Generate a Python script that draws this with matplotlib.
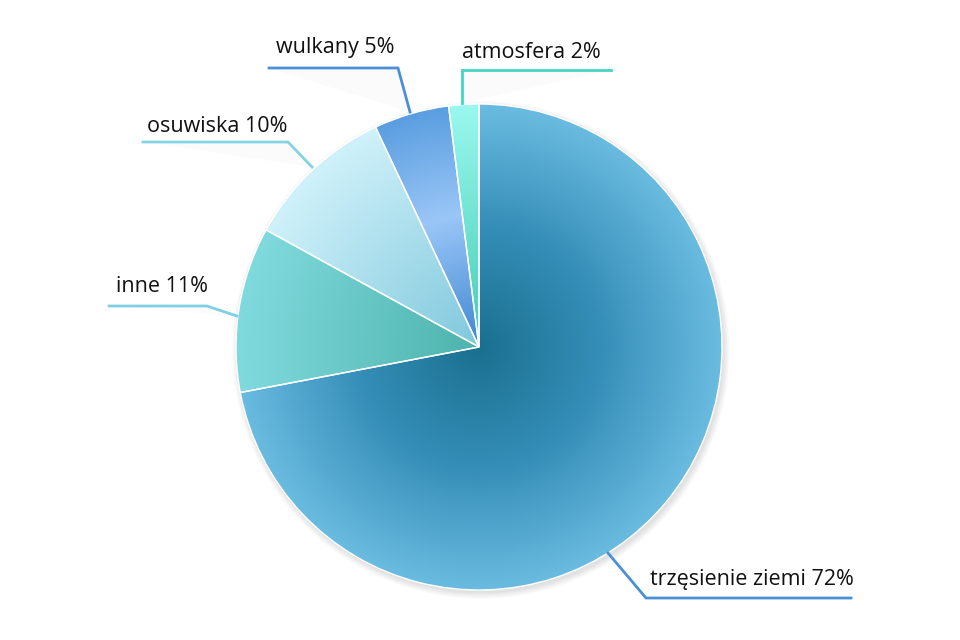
import numpy as np
import matplotlib.pyplot as plt
from matplotlib.colors import LinearSegmentedColormap
from matplotlib.patches import Circle, Polygon

plt.rcParams['font.family'] = ['Open Sans', 'DejaVu Sans']

labels = ["trzęsienie ziemi", "inne", "osuwiska", "wulkany", "atmosfera"]
shares = [72, 11, 10, 5, 2]

# radial gradient stops per slice (0 = pie centre, 1 = rim)
gradients = [
    [(0.0, "#19708f"), (0.5, "#358eb8"), (1.0, "#6abbe0")],
    [(0.0, "#4db3ad"), (1.0, "#80dadd")],
    [(0.0, "#80c8dc"), (1.0, "#cff1fa")],
    [(0.0, "#3f86d2"), (0.55, "#9ac6f7"), (1.0, "#5a9ee0")],
    [(0.0, "#45ccb4"), (1.0, "#9af8ee")],
]
line_colors = ["#4a90d9", "#80d0e3", "#86d3e5", "#4a90d9", "#45d6c2"]

# leader lines and label anchors, in pixels from top-left
leaders = [
    [(851, 598), (646, 598), (608, 553)],
    [(109, 306), (207, 306), (237, 316)],
    [(143, 142), (288, 142), (312, 167)],
    [(269, 68), (398, 68), (410, 112)],
    [(611, 70), (462, 70), (462, 103)],
]
label_pos = [(650, 580), (116, 287), (147, 127), (276, 48), (462, 53)]

W, H = 960, 640
cx, cy, R = 479, H - 347, 243


def px(p):
    return (p[0], H - p[1])


fig = plt.figure(figsize=(9.6, 6.4), dpi=100)
ax = fig.add_axes([0, 0, 1, 1])

# soft drop shadow under the pie
for k in range(10):
    ax.add_patch(Circle((cx + 2, cy - 3), R + 6 - k * 0.7, color="k",
                        alpha=0.012, lw=0, zorder=0))

wedges, _ = ax.pie(shares, startangle=90, counterclock=False, radius=R,
                   center=(cx, cy),
                   wedgeprops=dict(edgecolor="white", linewidth=1))

n = 600
xs = np.linspace(cx - R, cx + R, n)
ys = np.linspace(cy - R, cy + R, n)
X, Y = np.meshgrid(xs, ys)
rr = np.clip(np.hypot(X - cx, Y - cy) / R, 0, 1)

for w, stops in zip(wedges, gradients):
    cmap = LinearSegmentedColormap.from_list("g", stops)
    im = ax.imshow(rr, cmap=cmap, vmin=0, vmax=1, origin="lower",
                   extent=(cx - R, cx + R, cy - R, cy + R),
                   interpolation="bilinear", zorder=1)
    im.set_clip_path(w)
    w.set_facecolor("none")
    w.set_zorder(2)

for i, (pts, col, lab, val, tp) in enumerate(zip(leaders, line_colors, labels, shares, label_pos)):
    p = [px(q) for q in pts]
    if i > 0:
        ax.add_patch(Polygon(p, closed=True, color="k", alpha=0.015, lw=0, zorder=0))
    ax.plot([q[0] for q in p], [q[1] for q in p], color=col, lw=2.0,
            solid_joinstyle="miter", zorder=3)
    ax.text(tp[0], H - tp[1], f"{lab} {val}%", fontsize=15.5, color="#111111",
            ha="left", va="center", zorder=4)

ax.set_xlim(0, W)
ax.set_ylim(0, H)
ax.set_aspect("equal")
ax.axis("off")

fig.savefig("out.png", dpi=100, facecolor="white")
